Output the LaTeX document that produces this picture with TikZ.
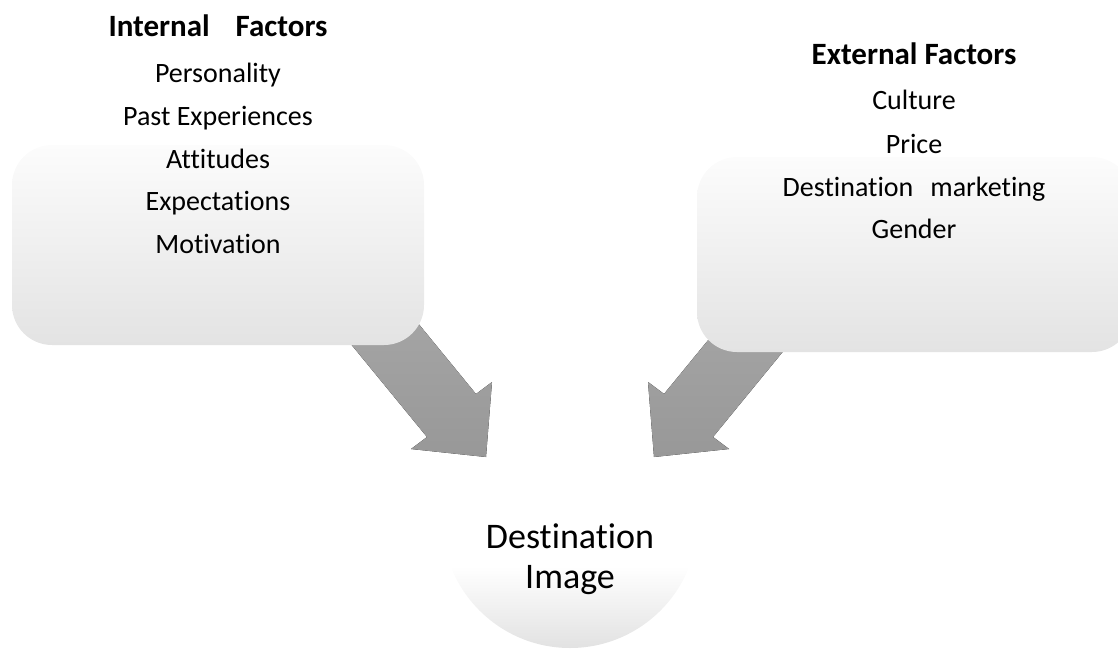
\documentclass[tikz,border=0pt]{standalone}
\usepackage{fontspec}
\setmainfont{Carlito}[Ligatures={NoCommon,NoRequired,NoContextual}]
\definecolor{boxtop}{RGB}{252,252,252}
\definecolor{boxbot}{RGB}{227,227,227}
\definecolor{arrtop}{RGB}{168,168,168}
\definecolor{arrbot}{RGB}{152,152,152}
\definecolor{discbot}{RGB}{226,226,226}
% disc fades from light grey at the bottom to white above its lower third
\pgfdeclareverticalshading{discfade}{100bp}{color(0bp)=(discbot); color(25bp)=(discbot); color(41bp)=(white); color(100bp)=(white)}
\begin{document}
\begin{tikzpicture}[x=1pt,y=-1pt,
  factorbox/.style={top color=boxtop, bottom color=boxbot, draw=none, rounded corners=40pt},
  bigarrow/.style={top color=arrtop, bottom color=arrbot, draw=none},
  headline/.style={anchor=base, inner sep=0pt, font=\bfseries\fontsize{31}{34}\selectfont},
  itemline/.style={anchor=base, inner sep=0pt, font=\fontsize{28}{32}\selectfont},
  targetline/.style={anchor=base, inner sep=0pt, font=\fontsize{36}{40}\selectfont}]
\useasboundingbox (0,0) rectangle (1118,650);
\clip (0,0) rectangle (1118,650);

% destination image disc
\path[shading=discfade] (570,520) circle[radius=128];

% block arrows pointing towards the destination image
\fill[bigarrow] (381,278) -- (476,394) -- (492,382) -- (486,457) -- (411,449) -- (427,437) -- (332,321) -- cycle;
\fill[bigarrow] (759,278) -- (664,394) -- (648,382) -- (654,457) -- (729,449) -- (713,437) -- (808,321) -- cycle;

% factor boxes
\path[factorbox] (12,145) rectangle (424,345);
\path[factorbox] (697,157) rectangle (1132,352);

% internal factors
\node[headline] (l0) at (218,37) {Internal\hspace{26pt}Factors};
\node[itemline] (l1) at (218,83) {Personality};
\node[itemline] (l2) at (218,125.5) {Past Experiences};
\node[itemline] (l3) at (218,168) {Attitudes};
\node[itemline] (l4) at (218,210.5) {Expectations};
\node[itemline] (l5) at (218,253) {Motivation};

% external factors
\node[headline] (r0) at (914,65) {External Factors};
\node[itemline] (r1) at (914,110) {Culture};
\node[itemline] (r2) at (914,153) {Price};
\node[itemline] (r3) at (914,196) {Destination\hspace{17pt}marketing};
\node[itemline] (r4) at (914,238.5) {Gender};

% destination image label
\node[targetline] (d1) at (570,548) {Destination};
\node[targetline] (d2) at (570,588) {Image};
\end{tikzpicture}
\end{document}
